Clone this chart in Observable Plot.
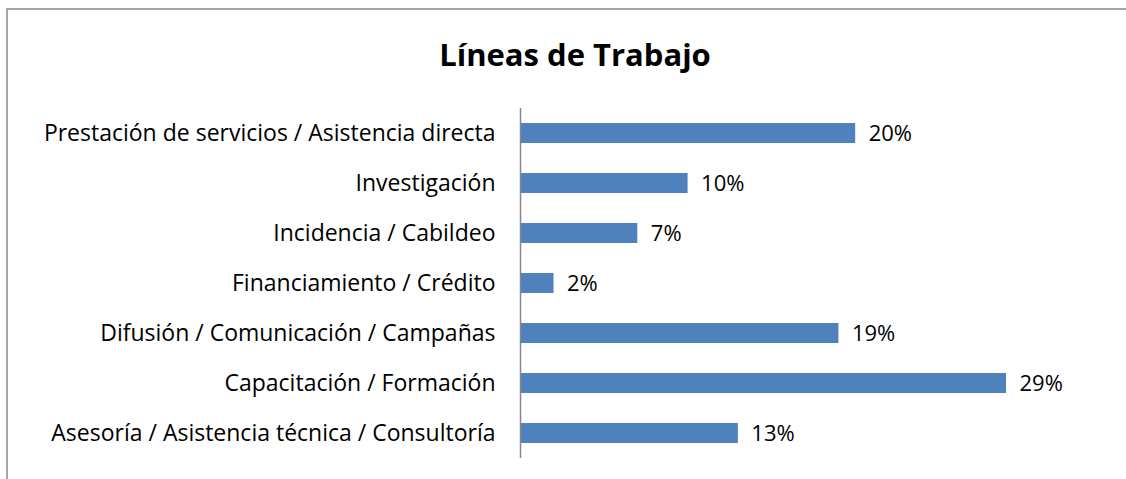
<!DOCTYPE html>
<html>
<head>
<meta charset="utf-8">
<script src="https://cdn.jsdelivr.net/npm/d3@7"></script>
<script src="https://cdn.jsdelivr.net/npm/@observablehq/plot@0.6"></script>
<style>
  html, body { margin: 0; padding: 0; background: #fff; }
  #wrap { position: relative; width: 1126px; height: 479px; overflow: hidden; font-family: "Open Sans", sans-serif; }
  #frame { position: absolute; left: 6px; top: 8px; width: 1200px; height: 600px; border: 2px solid #a6a6a6; box-sizing: border-box; }
  #title { position: absolute; left: 0; top: 34px; width: 1150px; text-align: center; font-size: 31px; font-weight: bold; color: #000; line-height: 40px; }
  #chart { position: absolute; left: 0; top: 0; }
</style>
</head>
<body>
<div id="wrap">
  <div id="frame"></div>
  <div id="chart"></div>
  <div id="title">Líneas de Trabajo</div>
</div>
<script>
const categories = [
  "Prestación de servicios / Asistencia directa",
  "Investigación",
  "Incidencia / Cabildeo",
  "Financiamiento / Crédito",
  "Difusión / Comunicación / Campañas",
  "Capacitación / Formación",
  "Asesoría / Asistencia técnica / Consultoría"
];
const values = [20, 10, 7, 2, 19, 29, 13];

const data = categories.map((c, i) => ({category: c, value: values[i]}));

const chart = Plot.plot({
  width: 1126,
  height: 479,
  marginLeft: 520,
  marginRight: 120,
  marginTop: 108,
  marginBottom: 21,
  style: {fontFamily: "'Open Sans', sans-serif", fontSize: "23px", color: "#000", background: "transparent"},
  x: {domain: [0, 29], axis: null},
  y: {domain: categories, paddingInner: 0.6, paddingOuter: 0.3, label: null, axis: null},
  marks: [
    Plot.barX(data, {x: "value", y: "category", fill: "#4f81bd"}),
    Plot.text(data, {x: "value", y: "category", text: d => d.value + "%", textAnchor: "start", dx: 13, fontSize: 22, fill: "#000"}),
    Plot.ruleX([0], {stroke: "#868686", strokeWidth: 1.5}),
    Plot.axisY({tickSize: 0, tickPadding: 25, fontSize: 23, label: null})
  ]
});
chart.querySelectorAll("text").forEach(t => t.setAttribute("fill", "#000"));
document.getElementById("chart").appendChild(chart);
</script>
</body>
</html>
